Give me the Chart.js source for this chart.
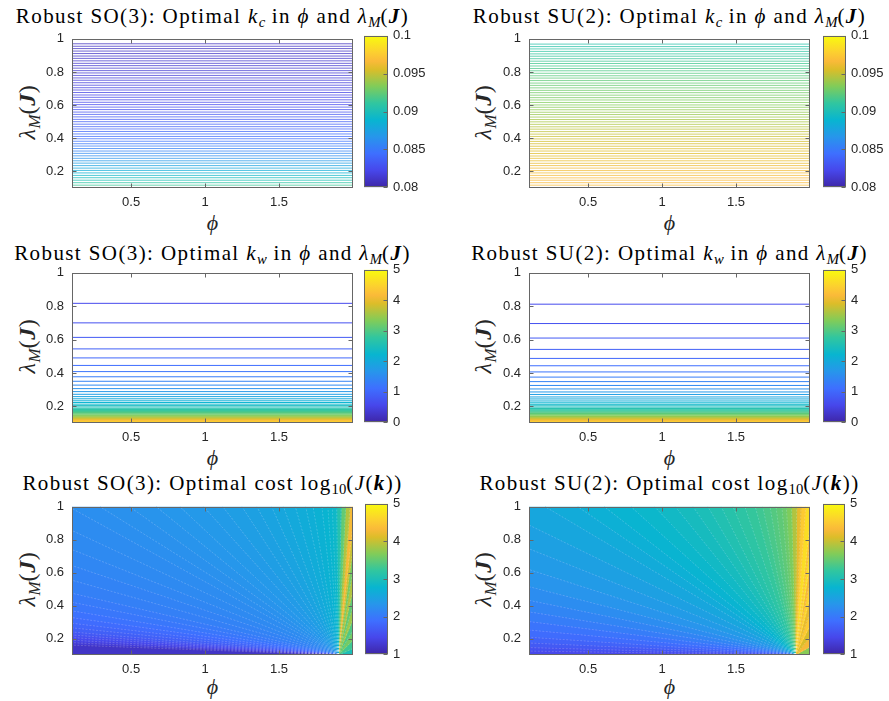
<!DOCTYPE html>
<html>
<head>
<meta charset="utf-8">
<script src="https://cdn.jsdelivr.net/npm/chart.js@4.4.1/dist/chart.umd.min.js"></script>
<style>
  body { margin: 0; background: #fff; width: 889px; height: 701px; position: relative; overflow: hidden;
         font-family: "Liberation Serif", "DejaVu Serif", serif; }
  .t  { position: absolute; white-space: nowrap; font-size: 21px; line-height: 20px; letter-spacing: 1.4px;
        color: #000; transform: translateX(-50%); }
  .xl { position: absolute; white-space: nowrap; font-size: 22px; line-height: 20px; color: #262626;
        transform: translateX(-50%); }
  .yl { position: absolute; white-space: nowrap; font-size: 24px; line-height: 22px; letter-spacing: 0.6px;
        color: #262626; transform: translate(-50%, -50%) rotate(-90deg); }
  sub { font-size: 70%; vertical-align: -0.3em; line-height: 0; letter-spacing: 0; }
</style>
</head>
<body>

<div class="t" style="left:212.5px;top:6px">Robust SO(3): Optimal <i>k<sub>c</sub></i> in <i>ϕ</i> and <i>λ<sub>M</sub></i>(<b><i>J</i></b>)</div>
<div class="t" style="left:669.5px;top:6px">Robust SU(2): Optimal <i>k<sub>c</sub></i> in <i>ϕ</i> and <i>λ<sub>M</sub></i>(<b><i>J</i></b>)</div>
<div class="t" style="left:212.5px;top:243px">Robust SO(3): Optimal <i>k<sub>w</sub></i> in <i>ϕ</i> and <i>λ<sub>M</sub></i>(<b><i>J</i></b>)</div>
<div class="t" style="left:669.5px;top:243px">Robust SU(2): Optimal <i>k<sub>w</sub></i> in <i>ϕ</i> and <i>λ<sub>M</sub></i>(<b><i>J</i></b>)</div>
<div class="t" style="left:212.5px;top:473px">Robust SO(3): Optimal cost log<sub>10</sub>(<i>J</i>(<b><i>k</i></b>))</div>
<div class="t" style="left:669.5px;top:473px">Robust SU(2): Optimal cost log<sub>10</sub>(<i>J</i>(<b><i>k</i></b>))</div>

<div class="xl" style="left:212.5px;top:213px"><i>ϕ</i></div>
<div class="xl" style="left:669.5px;top:213px"><i>ϕ</i></div>
<div class="xl" style="left:212.5px;top:448px"><i>ϕ</i></div>
<div class="xl" style="left:669.5px;top:448px"><i>ϕ</i></div>
<div class="xl" style="left:212.5px;top:677px"><i>ϕ</i></div>
<div class="xl" style="left:669.5px;top:677px"><i>ϕ</i></div>

<div class="yl" style="left:27px;top:111.5px"><i>λ<sub>M</sub></i>(<b><i>J</i></b>)</div>
<div class="yl" style="left:483px;top:111.5px"><i>λ<sub>M</sub></i>(<b><i>J</i></b>)</div>
<div class="yl" style="left:27px;top:346px"><i>λ<sub>M</sub></i>(<b><i>J</i></b>)</div>
<div class="yl" style="left:483px;top:346px"><i>λ<sub>M</sub></i>(<b><i>J</i></b>)</div>
<div class="yl" style="left:27px;top:579px"><i>λ<sub>M</sub></i>(<b><i>J</i></b>)</div>
<div class="yl" style="left:483px;top:579px"><i>λ<sub>M</sub></i>(<b><i>J</i></b>)</div>

<script>
// axes
const phiRange = [0.1, 2];
const lamRange = [0.1, 1];
const phiTicks = [0.5, 1, 1.5];
const lamTicks = [0.2, 0.4, 0.6, 0.8, 1];
const kcTicks = [0.08, 0.085, 0.09, 0.095, 0.1];
const kwTicks = [0, 1, 2, 3, 4, 5];
const costTicks = [1, 2, 3, 4, 5];

// optimal k_c contour lines: lambda position and level
const kcLamSO3 = [0.970, 0.955, 0.941, 0.926, 0.911, 0.896, 0.882, 0.867, 0.852, 0.838,
  0.823, 0.808, 0.794, 0.779, 0.764, 0.750, 0.735, 0.720, 0.705, 0.691,
  0.676, 0.661, 0.647, 0.632, 0.617, 0.603, 0.588, 0.573, 0.558, 0.544,
  0.529, 0.514, 0.500, 0.485, 0.470, 0.456, 0.441, 0.426, 0.411, 0.397,
  0.382, 0.367, 0.353, 0.338, 0.323, 0.309, 0.294, 0.279, 0.264, 0.250,
  0.235, 0.220, 0.206, 0.191, 0.176, 0.162, 0.147, 0.132, 0.117, 0.103];
const kcValSO3 = [0.0808, 0.0809, 0.0809, 0.0810, 0.0810, 0.0811, 0.0811, 0.0812, 0.0812, 0.0813,
  0.0813, 0.0814, 0.0814, 0.0815, 0.0816, 0.0816, 0.0817, 0.0818, 0.0819, 0.0819,
  0.0820, 0.0821, 0.0822, 0.0822, 0.0823, 0.0824, 0.0825, 0.0827, 0.0828, 0.0830,
  0.0831, 0.0833, 0.0834, 0.0836, 0.0837, 0.0838, 0.0840, 0.0841, 0.0843, 0.0844,
  0.0847, 0.0849, 0.0852, 0.0854, 0.0856, 0.0859, 0.0861, 0.0865, 0.0869, 0.0872,
  0.0876, 0.0879, 0.0883, 0.0887, 0.0893, 0.0898, 0.0903, 0.0908, 0.0914, 0.0919];
const kcLamSU2 = [0.968, 0.953, 0.939, 0.924, 0.909, 0.895, 0.880, 0.865, 0.851, 0.836,
  0.821, 0.807, 0.792, 0.777, 0.763, 0.748, 0.733, 0.719, 0.704, 0.689,
  0.675, 0.660, 0.645, 0.631, 0.616, 0.601, 0.587, 0.572, 0.557, 0.543,
  0.528, 0.513, 0.499, 0.484, 0.469, 0.455, 0.440, 0.425, 0.411, 0.396,
  0.381, 0.367, 0.352, 0.337, 0.323, 0.308, 0.293, 0.279, 0.264, 0.249,
  0.235, 0.220, 0.205, 0.191, 0.176, 0.161, 0.147, 0.132, 0.117, 0.103];
const kcValSU2 = [0.0906, 0.0907, 0.0909, 0.0910, 0.0911, 0.0912, 0.0913, 0.0915, 0.0916, 0.0917,
  0.0918, 0.0919, 0.0921, 0.0922, 0.0923, 0.0924, 0.0925, 0.0926, 0.0927, 0.0928,
  0.0929, 0.0930, 0.0931, 0.0932, 0.0933, 0.0934, 0.0935, 0.0937, 0.0938, 0.0939,
  0.0940, 0.0942, 0.0943, 0.0944, 0.0946, 0.0947, 0.0948, 0.0950, 0.0951, 0.0952,
  0.0953, 0.0954, 0.0955, 0.0956, 0.0957, 0.0957, 0.0958, 0.0959, 0.0960, 0.0961,
  0.0962, 0.0963, 0.0964, 0.0964, 0.0965, 0.0966, 0.0967, 0.0967, 0.0968, 0.0969];

// optimal k_w contour lines
const kwLevels = [0.6, 0.7, 0.8, 0.9, 1.0, 1.1, 1.2, 1.3, 1.4, 1.5, 1.6, 1.7, 1.8, 1.9, 2.0,
  2.1, 2.2, 2.3, 2.4, 2.5, 2.6, 2.7, 2.8, 2.9, 3.0, 3.1, 3.2, 3.3, 3.4, 3.5,
  3.6, 3.7, 3.8, 3.9, 4.0, 4.1, 4.2, 4.3, 4.4, 4.5, 4.6, 4.7, 4.8, 4.9];
const kwLamSO3 = [0.817, 0.700, 0.613, 0.544, 0.490, 0.445, 0.408, 0.377, 0.350, 0.327,
  0.306, 0.288, 0.272, 0.258, 0.245, 0.233, 0.223, 0.213, 0.204, 0.196,
  0.188, 0.181, 0.175, 0.169, 0.163, 0.158, 0.153, 0.148, 0.144, 0.140,
  0.136, 0.132, 0.129, 0.126, 0.123, 0.120, 0.117, 0.114, 0.111, 0.109,
  0.107, 0.104, 0.102, 0.100];
const kwLamSU2 = [0.812, 0.696, 0.609, 0.541, 0.487, 0.443, 0.406, 0.375, 0.348, 0.325,
  0.304, 0.286, 0.271, 0.256, 0.244, 0.232, 0.221, 0.212, 0.203, 0.195,
  0.187, 0.180, 0.174, 0.168, 0.162, 0.157, 0.152, 0.148, 0.143, 0.139,
  0.135, 0.132, 0.128, 0.125, 0.122, 0.119, 0.116, 0.113, 0.111, 0.108,
  0.106, 0.104, 0.101, 0.099];

// optimal cost: contour lines fan out from one point to the plot border
const costFocus = [1.9, 0.1];
const soCostPhi = [0.1, 0.1, 0.1, 0.1, 0.1, 0.1, 0.1, 0.1, 0.1, 0.1, 0.1, 0.1, 0.1, 0.1, 0.1, 0.1, 0.1, 0.1,
  0.29, 0.49, 0.67, 0.83, 0.99, 1.12, 1.25, 1.35, 1.45, 1.53, 1.61, 1.68, 1.73, 1.79, 1.83, 1.86, 1.89, 1.92, 1.95, 1.98,
  2, 2, 2, 2, 2, 2, 2, 2, 2, 2];
const soCostLam = [0.1, 0.16, 0.175, 0.19, 0.206, 0.222, 0.24, 0.265, 0.293, 0.327, 0.368, 0.42, 0.475, 0.554, 0.643, 0.74, 0.856, 0.99,
  1, 1, 1, 1, 1, 1, 1, 1, 1, 1, 1, 1, 1, 1, 1, 1, 1, 1, 1, 1,
  0.9, 0.75, 0.62, 0.5, 0.4, 0.32, 0.25, 0.19, 0.14, 0.1];
const soCostVal = [1.2, 1.3, 1.4, 1.48, 1.56, 1.64, 1.72, 1.79, 1.86, 1.92, 1.98, 2.03, 2.08, 2.12, 2.16, 2.19, 2.22, 2.25,
  2.28, 2.31, 2.34, 2.37, 2.4, 2.44, 2.48, 2.52, 2.56, 2.6, 2.64, 2.68, 2.72, 2.76, 2.8, 2.85, 3.1, 3.5, 3.9,
  4.3, 4.0, 3.6, 3.9, 3.5, 3.8, 3.4, 3.6, 3.3, 3.0];
const suCostPhi = [0.1, 0.1, 0.1, 0.1, 0.1, 0.1, 0.1, 0.1, 0.1, 0.1, 0.1, 0.1, 0.1,
  0.21, 0.43, 0.61, 0.79, 0.95, 1.09, 1.21, 1.31, 1.40, 1.48, 1.56, 1.63, 1.68, 1.73, 1.77, 1.81, 1.84, 1.875, 1.91, 1.94, 1.97,
  2, 2, 2, 2, 2, 2, 2, 2, 2, 2];
const suCostLam = [0.1, 0.124, 0.145, 0.173, 0.208, 0.252, 0.303, 0.362, 0.432, 0.515, 0.619, 0.745, 0.889,
  1, 1, 1, 1, 1, 1, 1, 1, 1, 1, 1, 1, 1, 1, 1, 1, 1, 1, 1, 1, 1,
  0.9, 0.78, 0.66, 0.55, 0.45, 0.36, 0.28, 0.21, 0.15, 0.1];
const suCostVal = [1.45, 1.55, 1.65, 1.75, 1.85, 1.95, 2.05, 2.14, 2.23, 2.32, 2.4, 2.48, 2.56,
  2.63, 2.7, 2.76, 2.82, 2.88, 2.94, 3.0, 3.06, 3.12, 3.18, 3.24, 3.3, 3.36, 3.42, 3.48, 3.55, 3.65, 3.9, 4.2, 4.5,
  4.7, 4.4, 4.7, 4.3, 4.6, 4.2, 4.5, 4.1, 4.3, 3.7];

// parula colormap (matlab default)
const parulaStops = [[0, [62, 38, 168]], [0.111, [71, 71, 235]], [0.222, [62, 111, 255]], [0.333, [39, 150, 235]],
  [0.444, [8, 181, 208]], [0.556, [49, 198, 159]], [0.667, [129, 204, 89]], [0.778, [220, 189, 41]],
  [0.833, [250, 186, 57]], [0.889, [252, 207, 48]], [1, [249, 251, 14]]];
function parula(t) {
  t = Math.min(1, Math.max(0, t));
  let i = 0;
  while (i < parulaStops.length - 2 && t > parulaStops[i + 1][0]) i++;
  const [t0, a] = parulaStops[i], [t1, b] = parulaStops[i + 1];
  const f = (t - t0) / (t1 - t0);
  return 'rgb(' + a.map((c, k) => Math.round(c + (b[k] - c) * f)).join(',') + ')';
}
function parulaGradient(chart) {
  const a = chart.chartArea;
  if (!a) return parula(0.5);
  const g = chart.ctx.createLinearGradient(0, a.bottom, 0, a.top);
  parulaStops.forEach(([t, s]) => g.addColorStop(t, 'rgb(' + s + ')'));
  return g;
}

// box around the axes with inward ticks, like matlab
const boxPlugin = {
  id: 'box',
  afterDraw(chart, args, opts) {
    const {ctx, chartArea: a, scales} = chart;
    const L = Math.round(a.left) + 0.5, R = Math.round(a.right) - 0.5;
    const T = Math.round(a.top) + 0.5, B = Math.round(a.bottom) - 0.5;
    const tl = 4;
    ctx.save();
    ctx.strokeStyle = '#666';
    ctx.lineWidth = 1;
    ctx.strokeRect(L, T, R - L, B - T);
    ctx.beginPath();
    scales.y.ticks.forEach(t => {
      const y = Math.round(scales.y.getPixelForValue(t.value)) + 0.5;
      ctx.moveTo(R, y); ctx.lineTo(R - tl, y);
      if (!opts.colorbar) { ctx.moveTo(L, y); ctx.lineTo(L + tl, y); }
    });
    if (!opts.colorbar) {
      scales.x.ticks.forEach(t => {
        const x = Math.round(scales.x.getPixelForValue(t.value)) + 0.5;
        ctx.moveTo(x, B); ctx.lineTo(x, B - tl);
        ctx.moveTo(x, T); ctx.lineTo(x, T + tl);
      });
    }
    ctx.stroke();
    ctx.restore();
  }
};

const tickFont = {family: '"Liberation Sans", Arial, sans-serif', size: 13};
function axis(range, ticks, pad) {
  return {
    type: 'linear', min: range[0], max: range[1],
    grid: {display: false, drawTicks: false},
    border: {display: false},
    afterBuildTicks: s => { s.ticks = ticks.map(v => ({value: v})); },
    ticks: {color: '#262626', font: tickFont, padding: pad, autoSkip: false, maxRotation: 0,
            callback: v => String(v)}
  };
}

function addCanvas(left, top, w, h) {
  const c = document.createElement('canvas');
  c.width = w; c.height = h;
  c.style.cssText = `position:absolute;left:${left}px;top:${top}px;width:${w}px;height:${h}px`;
  document.body.appendChild(c);
  return c;
}

function hLines(lam, val, range, width) {
  return lam.map((l, i) => ({
    data: [{x: phiRange[0], y: l}, {x: phiRange[1], y: l}],
    showLine: true, pointRadius: 0, borderWidth: width,
    borderColor: parula((val[i] - range[0]) / (range[1] - range[0]))
  }));
}

function costSets(ph, la, val, range) {
  const F = () => ({x: costFocus[0], y: costFocus[1]});
  const sets = [];
  for (let i = 0; i < val.length; i++) {
    const pts = [F(), {x: ph[i], y: la[i]}];
    if (ph[i] === phiRange[0] && la[i + 1] === lamRange[1] && ph[i + 1] !== phiRange[0]) pts.push({x: phiRange[0], y: lamRange[1]});
    if (la[i] === lamRange[1] && ph[i + 1] === phiRange[1] && la[i + 1] !== lamRange[1]) pts.push({x: phiRange[1], y: lamRange[1]});
    pts.push({x: ph[i + 1], y: la[i + 1]}, F());
    const col = parula((val[i] - range[0]) / (range[1] - range[0]));
    sets.push({data: pts, showLine: true, fill: 'shape', backgroundColor: col, borderColor: col,
               borderWidth: 1, pointRadius: 0, order: 2});
  }
  for (let i = 1; i < ph.length - 1; i++) {
    sets.push({data: [F(), {x: ph[i], y: la[i]}], showLine: true, pointRadius: 0, order: 1,
               borderColor: 'rgba(255,255,255,0.32)', borderWidth: 0.6, borderDash: [2, 1.5]});
  }
  return sets;
}

function mainChart(box, datasets) {
  const [L, T, R, B] = box;
  const c = addCanvas(L - 60, T - 12, R - L + 68, B - T + 42);
  new Chart(c, {
    type: 'scatter',
    data: {datasets},
    plugins: [boxPlugin],
    options: {
      responsive: false, animation: false, events: [],
      layout: {padding: {left: 0, top: 12, right: 8, bottom: 0}, autoPadding: false},
      plugins: {legend: {display: false}, tooltip: {enabled: false}, box: {colorbar: false}},
      scales: {
        x: Object.assign(axis(phiRange, phiTicks, 7), {afterFit: s => { s.height = 30; }}),
        y: Object.assign(axis(lamRange, lamTicks, 8), {afterFit: s => { s.width = 60; }})
      }
    }
  });
}

function colorbar(cb, box, range, ticks) {
  const [L, R] = cb, T = box[1], B = box[3];
  const c = addCanvas(L, T - 12, R - L + 50, B - T + 24);
  new Chart(c, {
    type: 'bar',
    data: {labels: [''], datasets: [{data: [range], backgroundColor: ctx => parulaGradient(ctx.chart),
           borderWidth: 0, barPercentage: 1, categoryPercentage: 1}]},
    plugins: [boxPlugin],
    options: {
      responsive: false, animation: false, events: [],
      layout: {padding: {left: 0, top: 12, right: 0, bottom: 12}, autoPadding: false},
      plugins: {legend: {display: false}, tooltip: {enabled: false}, box: {colorbar: true}},
      scales: {
        x: {display: false},
        y: Object.assign(axis(range, ticks, 5), {position: 'right', afterFit: s => { s.width = 50; }})
      }
    }
  });
}

const kcRange = [0.08, 0.1], kwRange = [0, 5], costRange = [1, 5];

mainChart([72, 35, 353, 188], hLines(kcLamSO3, kcValSO3, kcRange, 0.75));
colorbar([364, 388], [72, 35, 353, 188], kcRange, kcTicks);
mainChart([529, 35, 810, 188], hLines(kcLamSU2, kcValSU2, kcRange, 0.75));
colorbar([823, 846], [529, 35, 810, 188], kcRange, kcTicks);

mainChart([72, 269, 353, 423], hLines(kwLamSO3, kwLevels, kwRange, 1));
colorbar([364, 388], [72, 269, 353, 423], kwRange, kwTicks);
mainChart([529, 269, 810, 423], hLines(kwLamSU2, kwLevels, kwRange, 1));
colorbar([823, 846], [529, 269, 810, 423], kwRange, kwTicks);

mainChart([72, 503, 353, 655], costSets(soCostPhi, soCostLam, soCostVal, costRange));
colorbar([365, 388], [72, 503, 353, 655], costRange, costTicks);
mainChart([529, 503, 810, 655], costSets(suCostPhi, suCostLam, suCostVal, costRange));
colorbar([823, 845], [529, 503, 810, 655], costRange, costTicks);
</script>
</body>
</html>
